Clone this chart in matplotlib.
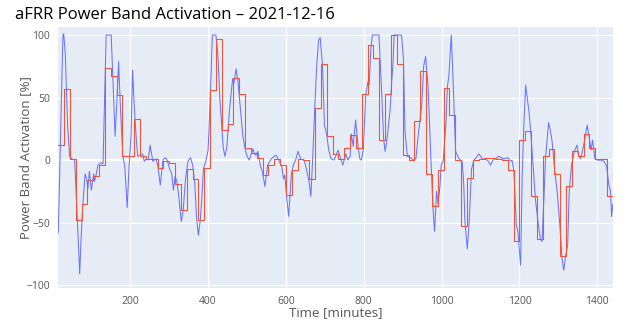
import numpy as np
import matplotlib
matplotlib.use("Agg")
import matplotlib.pyplot as plt

# aFRR activation, one day (minutes)
t_act = [15, 21, 27, 29, 33, 39, 44, 50, 57, 63, 70, 74, 78, 84, 88, 91, 95, 100, 106, 108,
         112, 117, 124, 130, 134, 138, 151, 156, 161, 166, 170, 175, 181, 186, 192, 197, 202, 206, 210, 215,
         219, 225, 232, 236, 241, 246, 251, 258, 266, 271, 277, 284, 290, 295, 301, 306, 311, 315, 320, 325,
         331, 336, 342, 348, 355, 361, 366, 370, 375, 380, 384, 388, 394, 400, 405, 411, 420, 425, 430, 435,
         439, 443, 448, 455, 463, 466, 472, 477, 483, 489, 495, 500, 506, 515, 519, 523, 528, 534, 540, 546,
         553, 562, 570, 575, 583, 589, 594, 597, 602, 607, 611, 614, 620, 625, 631, 638, 647, 654, 660, 664,
         668, 674, 679, 684, 688, 694, 699, 705, 710, 716, 724, 734, 740, 746, 754, 759, 765, 768, 773, 779,
         786, 790, 794, 799, 805, 811, 814, 818, 822, 839, 846, 851, 855, 861, 868, 872, 875, 878, 897, 902,
         906, 912, 920, 927, 934, 940, 949, 954, 959, 965, 969, 974, 979, 982, 987, 991, 996, 999, 1004, 1011,
         1015, 1019, 1022, 1025, 1030, 1036, 1045, 1053, 1057, 1060, 1066, 1071, 1077, 1083, 1089, 1096, 1105, 1118, 1126, 1132,
         1139, 1147, 1160, 1170, 1177, 1181, 1186, 1192, 1196, 1203, 1207, 1211, 1216, 1222, 1224, 1229, 1235, 1241, 1248, 1254,
         1258, 1263, 1267, 1271, 1275, 1280, 1284, 1291, 1297, 1304, 1310, 1314, 1318, 1324, 1328, 1334, 1341, 1348, 1351, 1357,
         1360, 1367, 1374, 1380, 1384, 1388, 1394, 1401, 1410, 1418, 1424, 1430, 1434, 1437, 1440]
v_act = [-58, 20, 100, 101, 85, 28, 3, 1, 0, -40, -91, -60, -36, -11, -15, -23, -9, -24, -11, -17,
         -12, -4, -2, -3, 50, 100, 100, 60, 19, 50, 79, 40, 3, -5, -38, -5, 20, 72, 45, 19,
         3, 4, 5, -1, 1, 0, 12, -1, 1, -5, -20, 0, 2, 0, -7, -10, -24, -13, -17, -30,
         -49, -40, -15, -1, 2, -5, -20, -45, -60, -48, -30, -7, -1, 8, 45, 100, 100, 85, 50, 28,
         10, 3, 10, 40, 65, 61, 73, 62, 41, 20, 9, 3, 0, 9, 5, 4, 7, -4, -10, -21,
         -4, 1, 3, 4, -1, -5, -15, -12, -30, -45, -25, -11, -3, 0, 7, 1, 0, -9, -18, -29,
         -4, 41, 75, 96, 98, 76, 28, 20, 8, 1, 0, 8, 2, -4, 5, 0, 3, 21, 11, 32,
         9, 1, 0, 9, 52, 63, 60, 88, 100, 100, 55, 17, 7, 20, 41, 64, 76, 100, 100, 81,
         23, 3, 2, 0, 1, 20, 44, 75, 83, 60, 29, -10, -44, -57, -25, -35, -20, -4, -1, 28,
         59, 68, 85, 100, 60, 7, 1, -1, -20, -49, -71, -49, -7, 0, 2, 5, 1, 0, -4, 0,
         1, 3, 1, 2, -1, 0, -9, -52, -57, -84, -15, 25, 60, 45, 41, 23, -3, -31, -50, -63,
         -65, -31, 1, 15, 30, 23, 15, -9, -25, -52, -80, -88, -78, -68, -25, -4, 7, 12, 5, 1,
         4, 15, 28, 17, 8, 16, 1, 0, 0, -1, -5, -20, -25, -45, -35]

# 15-minute band activation (value held over each quarter hour)
t_band = list(range(15, 1441, 15))
v_band = [12, 57, 1, -48, -35, -16, -13, -4, 74, 67, 52, 3, 3, 33, 3, 1, 1, -6, -1, -2,
          -19, -40, -7, -15, -48, -6, 56, 97, 24, 29, 66, 53, 10, 6, 2, -12, -4, 1, -4, -28,
          -8, 1, 0, -15, 42, 77, 19, 5, 1, 10, 20, 10, 53, 92, 82, 16, 53, 100, 77, 4,
          0, 31, 71, -11, -37, -8, 58, 36, 0, -53, -14, 0, 1, 2, 2, 1, 0, -8, -65, 16,
          23, -29, -63, 3, 9, -11, -77, -21, 7, 3, 21, 10, 1, 1, -29]
v_band_plot = v_band + [v_band[-1]]

plt.rcParams['font.family'] = ['Open Sans', 'DejaVu Sans']

fig = plt.figure(figsize=(6.28, 3.26), dpi=100)
ax = fig.add_axes([0.0928, 0.1175, 0.883, 0.7995])
ax.set_facecolor('#E5ECF6')

ax.plot(t_act, v_act, color='#636EFA', lw=0.75, alpha=0.95)
ax.plot(t_band, v_band_plot, color='#EF553B', lw=0.8, drawstyle='steps-post')

ax.set_xlim(15, 1440)
ax.set_ylim(-102, 106.4)
ax.set_xticks([200, 400, 600, 800, 1000, 1200, 1400])
ax.set_yticks([-100, -50, 0, 50, 100])
ax.grid(True, color='white', lw=0.9)
ax.axhline(0, color='white', lw=1.6, zorder=0.9)
ax.set_axisbelow(True)
for s in ax.spines.values():
    s.set_visible(False)
ax.tick_params(length=0, labelsize=7.5, labelcolor='#555555', pad=6)

ax.set_xlabel("Time [minutes]", fontsize=9.5, color='#555555')
ax.set_ylabel("Power Band Activation [%]", fontsize=9.5, color='#555555')
ax.xaxis.set_label_coords(0.5, -0.072)
ax.yaxis.set_label_coords(-0.047, 0.5)
fig.text(0.024, 0.955, "aFRR Power Band Activation \u2013 2021-12-16", fontsize=12,
         color='black', va='center', ha='left')

fig.savefig("out.png", dpi=100)
